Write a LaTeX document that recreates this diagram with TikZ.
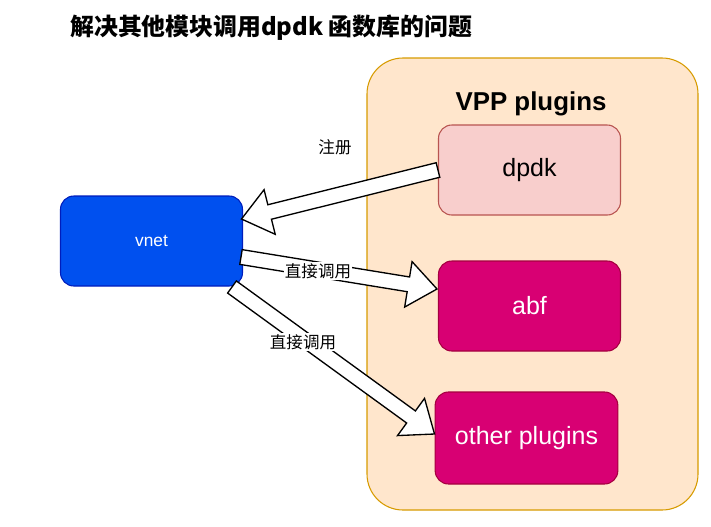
\documentclass[tikz,border=0pt]{standalone}
\usepackage{fontspec}
\setmainfont{Liberation Sans}
\newfontfamily\cjk{Noto Sans CJK SC}
\usetikzlibrary{calc}

\definecolor{grpfill}{HTML}{FFE6CC}
\definecolor{grpline}{HTML}{D79B00}
\definecolor{dpdkfill}{HTML}{F8CECC}
\definecolor{dpdkline}{HTML}{B85450}
\definecolor{plugfill}{HTML}{D80073}
\definecolor{plugline}{HTML}{A50040}
\definecolor{vnetfill}{HTML}{0050EF}
\definecolor{vnetline}{HTML}{001DBC}

% hollow block arrow from #1 to #2
\newcommand{\fatarrow}[2]{%
  \coordinate (fa) at ($(#2)!21.75pt!(#1)$);
  \draw[fill=white,line width=1pt,line join=miter] ($(#1)!5.6pt!90:(#2)$) -- ($(fa)!5.6pt!-90:(#1)$)
    -- ($(fa)!17.25pt!-90:(#1)$) -- (#2) -- ($(fa)!17.25pt!90:(#1)$)
    -- ($(fa)!5.6pt!90:(#1)$) -- ($(#1)!5.6pt!-90:(#2)$) -- cycle;
}

\begin{document}
\begin{tikzpicture}[x=0.75pt,y=-0.75pt,
    box/.style={rounded corners=10pt,line width=0.8pt,minimum width=136.5pt,minimum height=67.5pt,font=\fontsize{18.75}{20}\selectfont},
    plugin/.style={box,fill=plugfill,draw=plugline,text=white},
    lbl/.style={fill=white,inner sep=1pt,font=\cjk\fontsize{12.4}{14}\selectfont}]
    \useasboundingbox (0,0) rectangle (711,526);
    \node (title) at (70,28) [anchor=west,inner sep=0pt,font=\cjk\bfseries\fontsize{17.9}{20}\selectfont] {解决其他模块调用dpdk 函数库的问题};
    \draw[grpline,fill=grpfill,line width=0.8pt,rounded corners=27pt] (367,58) rectangle (698,510);
    \node (vpp) at (531,104) [font=\bfseries\fontsize{19.4}{22}\selectfont] {VPP plugins};
    \node (dpdk) at (529.5,170) [box,fill=dpdkfill,draw=dpdkline] {dpdk};
    \node (abf) at (529.5,306) [plugin] {abf};
    \node (other) at (526.5,438) [plugin,minimum width=137pt,minimum height=69pt] {other plugins};
    \node (vnet) at (151.5,241) [box,fill=vnetfill,draw=vnetline,text=white,font=\fontsize{13}{15}\selectfont] {vnet};
    \coordinate (reg) at (241.5,219);
    \coordinate (call1) at (241,257);
    \coordinate (abfin) at (437,289);
    \coordinate (call2) at (232,287);
    \coordinate (otherin) at (434.5,434);
    \fatarrow{dpdk.west}{reg}
    \fatarrow{call1}{abfin}
    \fatarrow{call2}{otherin}
    \node (l1) at (335,147) [lbl] {注册};
    \node (l2) at (318,271) [lbl] {直接调用};
    \node (l3) at (303,342) [lbl] {直接调用};
\end{tikzpicture}
\end{document}
